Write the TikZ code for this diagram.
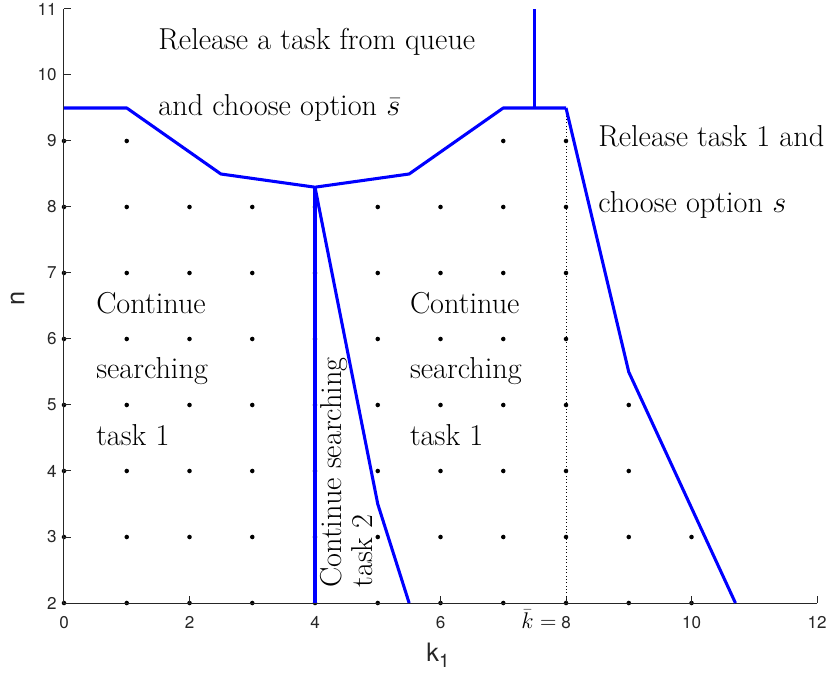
\RequirePackage{fix-cm}
\documentclass[tikz,border=0pt]{standalone}
\usepackage{fontspec}
\newfontfamily\helv{TeX Gyre Heros}
\definecolor{axgray}{HTML}{262626}
\definecolor{pblue}{RGB}{0,0,255}
\tikzset{
  bigtxt/.style={inner sep=0pt, anchor=base west, font=\fontsize{22.7}{26}\selectfont},
  ticklab/.style={inner sep=0pt, text=axgray, font=\helv\fontsize{12.8}{14}\selectfont},
  axline/.style={draw=axgray, line width=0.75pt},
  bline/.style={draw=pblue, line width=2.3pt, line join=round},
  griddot/.style={fill=black, circle, inner sep=0pt, minimum size=3.4pt},
}
\begin{document}
\begin{tikzpicture}[x=47.0625pt, y=49.5pt]
\useasboundingbox (-1.0199,0.8788) rectangle (12.1912,11.1364);
% grid dots
\foreach \n/\m in {8/8,7/8,6/8,5/9,4/9,3/10,2/10}{
  \foreach \k in {0,...,\m}{ \node[griddot] (d\k-\n) at (\k,\n) {}; }
}
\foreach \k in {0,1,7,8}{ \node[griddot] (d\k-9) at (\k,9) {}; }
% axes
\coordinate (o) at (0,2);
\coordinate (xe) at (12,2);
\coordinate (ye) at (0,11);
\draw[axline] (ye) -- (o) -- (xe);
\foreach \x in {2,4,...,12}{ \draw[axline] (\x,2) -- ++(0,5.25pt); }
\foreach \y in {3,...,11}{ \draw[axline] (0,\y) -- ++(5.25pt,0); }
% tick labels
\foreach \x in {0,2,4,6,10,12}{ \node[ticklab, anchor=north] (tx\x) at (\x,1.80) {\x}; }
\node[ticklab, anchor=north] (tx8) at (8,1.80) {8};
\foreach \y in {2,...,11}{ \node[ticklab, anchor=east] (ty\y) at (-0.112,\y) {\y}; }
\node[inner sep=0pt, anchor=base east, font=\fontsize{17}{20}\selectfont] (kbar) at (7.85,1.621) {$\bar k =$};
% axis labels
\node[inner sep=0pt, anchor=base west, text=axgray, font=\helv\fontsize{19}{21}\selectfont] (xlab) at (5.77,1.121) {k\raisebox{-5pt}{\fontsize{14}{14}\selectfont 1}};
\node[inner sep=0pt, rotate=90, text=axgray, font=\helv\fontsize{19}{21}\selectfont] (ylab) at (-0.74,6.62) {n};
% dotted line at k bar
\coordinate (kb2) at (8,2);
\coordinate (kb9) at (8,9.5);
\draw[black, line width=0.5pt, dotted] (kb2) -- (kb9);
% boundary curves
\coordinate (u0) at (0,9.5);
\coordinate (u1) at (1,9.5);
\coordinate (u2) at (2.5,8.5);
\coordinate (u3) at (4,8.3);
\coordinate (u4) at (5.5,8.5);
\coordinate (u5) at (7,9.5);
\coordinate (u6) at (8,9.5);
\coordinate (t1) at (7.5,9.5);
\coordinate (t2) at (7.5,11);
\coordinate (v2) at (4,2);
\coordinate (w1) at (5,3.5);
\coordinate (w2) at (5.5,2);
\coordinate (r1) at (9,5.5);
\coordinate (r2) at (10.7,2);
\draw[bline] (u0) -- (u1) -- (u2) -- (u3) -- (u4) -- (u5) -- (u6);
\draw[bline] (t1) -- (t2);
\draw[bline] (u3) -- (v2);
\draw[bline] (u3) -- (w1) -- (w2);
\draw[bline] (u6) -- (r1) -- (r2);
% region texts
\node[bigtxt] (rel1) at (1.5,10.39) {Release a task from queue};
\node[bigtxt] (rel2) at (1.5,9.39) {and choose option $\bar s$};
\node[bigtxt] (rt1) at (8.51,8.91) {Release task 1 and};
\node[bigtxt] (rt2) at (8.51,7.91) {choose option $s$};
\node[bigtxt] (cl1) at (0.51,6.39) {Continue};
\node[bigtxt] (cl2) at (0.51,5.40) {searching};
\node[bigtxt] (cl3) at (0.51,4.39) {task 1};
\node[bigtxt] (cm1) at (5.51,6.39) {Continue};
\node[bigtxt] (cm2) at (5.51,5.40) {searching};
\node[bigtxt] (cm3) at (5.51,4.39) {task 1};
\node[bigtxt, rotate=90] (cs1) at (4.43,2.23) {Continue searching};
\node[bigtxt, rotate=90] (cs2) at (4.92,2.23) {task 2};
\end{tikzpicture}
\end{document}
